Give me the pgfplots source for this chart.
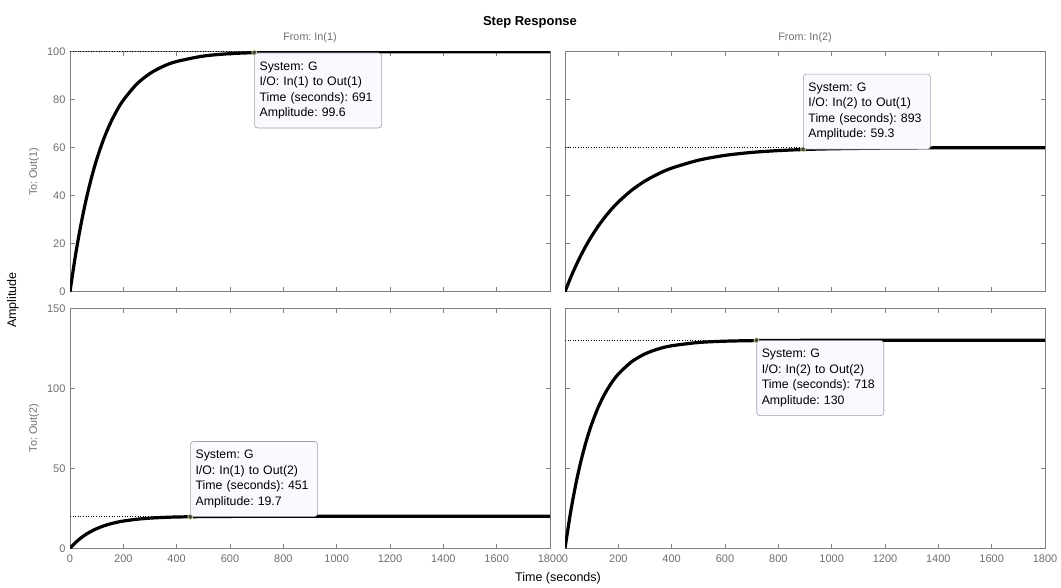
\documentclass[border=0pt]{standalone}
\usepackage{pgfplots}
\pgfplotsset{compat=1.18}
\usepackage{fontspec}
\setmainfont{Liberation Sans}
\frenchspacing
\definecolor{axgray}{RGB}{128,128,128}
\definecolor{lblgray}{RGB}{110,110,110}
\definecolor{tipfill}{RGB}{249,249,255}
\definecolor{tipedge}{RGB}{160,160,170}
\definecolor{mkedge}{RGB}{225,225,160}
\pgfplotsset{
  stepax/.style={
    scale only axis, width=480pt, height=240pt, anchor=south west,
    xmin=0, xmax=1800, xtick={0,200,...,1800},
    tick align=inside, xtick pos=both, ytick pos=both,
    xticklabel pos=lower, yticklabel pos=left,
    major tick length=4.5pt,
    axis line style={axgray, line width=0.6pt},
    tick style={axgray, line width=0.6pt},
    every tick label/.append style={text=lblgray, font=\fontsize{11}{13}\selectfont},
    xticklabel style={yshift=-3pt},
    yticklabel style={xshift=-1pt},
    /pgf/number format/assume math mode=true,
    /pgf/number format/1000 sep={},
    scaled ticks=false,
    clip mode=individual,
  },
  resp/.style={black, line width=3.2pt, smooth},
  ss/.style={black, dotted, line width=0.6pt},
  tipmark/.style={only marks, mark=*, mark size=2.5pt, mark options={fill=black!75, draw=mkedge, line width=0.7pt}},
}
\tikzset{
  datatip/.style={draw=tipedge, fill=tipfill, rounded corners=3pt, line width=0.6pt,
    text width=117pt, inner xsep=5pt, inner ysep=0pt, minimum height=75pt, align=left,
    font=\fontsize{12.3}{15.5}\selectfont},
}
\begin{document}
\begin{tikzpicture}[x=1pt,y=1pt]
\path[use as bounding box] (0,0) rectangle (1061,588);

% Top-left: In(1) -> Out(1)
\begin{axis}[stepax, at={(70pt,296.3pt)}, ymin=0, ymax=100, ytick={0,20,...,100}, xticklabels={}]
\addplot[ss] coordinates {(0,100) (1800,100)};
\addplot[resp] coordinates {(0,0) (20,14.79) (40,27.39) (60,38.12) (80,47.27) (100,55.07) (125,63.21) (150,69.88) (175,75.34) (200,79.81) (250,86.47) (300,90.93) (350,93.92) (400,95.92) (500,98.17) (600,99.18) (700,99.63) (800,99.83) (1000,99.97) (1200,99.99) (1800,100)};
\addplot[tipmark] coordinates {(691,99.6)};
\node[datatip, anchor=north west] at (axis cs:691,99.6) {System: G\\I/O: In(1) to Out(1)\\Time (seconds): 691\\Amplitude: 99.6};
\end{axis}

% Top-right: In(2) -> Out(1)
\begin{axis}[stepax, at={(565pt,296.3pt)}, ymin=0, ymax=100, ytick={0,20,...,100}, xticklabels={}, yticklabels={}]
\addplot[ss] coordinates {(0,60) (1800,60)};
\addplot[resp] coordinates {(0,0) (20,5.58) (40,10.63) (60,15.23) (80,19.39) (100,23.16) (125,27.39) (150,31.13) (175,34.45) (200,37.38) (250,42.28) (300,46.11) (350,49.12) (400,51.48) (500,54.77) (600,56.79) (700,58.03) (800,58.79) (900,59.26) (1000,59.54) (1200,59.83) (1400,59.94) (1800,60)};
\addplot[tipmark] coordinates {(893,59.3)};
\node[datatip, anchor=south west] at (axis cs:893,59.3) {System: G\\I/O: In(2) to Out(1)\\Time (seconds): 893\\Amplitude: 59.3};
\end{axis}

% Bottom-left: In(1) -> Out(2)
\begin{axis}[stepax, at={(70pt,39.7pt)}, ymin=0, ymax=150, ytick={0,50,100,150}]
\addplot[ss] coordinates {(0,20) (1800,20)};
\addplot[resp] coordinates {(0,0) (20,3.47) (40,6.34) (60,8.71) (80,10.66) (100,12.28) (125,13.92) (150,15.21) (175,16.22) (200,17.02) (250,18.15) (300,18.85) (350,19.29) (400,19.56) (500,19.83) (600,19.93) (700,19.97) (800,19.99) (1000,20) (1800,20)};
\addplot[tipmark] coordinates {(451,19.7)};
\node[datatip, anchor=south west] at (axis cs:451,19.7) {System: G\\I/O: In(1) to Out(2)\\Time (seconds): 451\\Amplitude: 19.7};
\end{axis}

% Bottom-right: In(2) -> Out(2)
\begin{axis}[stepax, at={(565pt,39.7pt)}, ymin=0, ymax=150, ytick={0,50,100,150}, yticklabels={}]
\addplot[ss] coordinates {(0,130) (1800,130)};
\addplot[resp] coordinates {(0,0) (20,21.61) (40,39.64) (60,54.65) (80,67.18) (100,77.62) (125,88.27) (150,96.76) (175,103.52) (200,108.90) (250,116.61) (300,121.50) (350,124.61) (400,126.58) (500,128.62) (600,129.44) (700,129.78) (800,129.91) (1000,129.99) (1800,130)};
\addplot[tipmark] coordinates {(718,130)};
\node[datatip, anchor=north west] at (axis cs:718,130) {System: G\\I/O: In(2) to Out(2)\\Time (seconds): 718\\Amplitude: 130};
\end{axis}

% Titles and labels
\node[font=\bfseries\fontsize{13}{15}\selectfont] at (530,566) {Step Response};
\node[text=lblgray, font=\fontsize{10.8}{12}\selectfont] at (310,550) {From: In(1)};
\node[text=lblgray, font=\fontsize{10.8}{12}\selectfont] at (805,550) {From: In(2)};
\node[text=lblgray, font=\fontsize{10.8}{12}\selectfont, rotate=90] at (34,416) {To: Out(1)};
\node[text=lblgray, font=\fontsize{10.8}{12}\selectfont, rotate=90] at (34,160) {To: Out(2)};
\node[font=\fontsize{12.5}{14}\selectfont, rotate=90] at (13,288) {Amplitude};
\node[font=\fontsize{12.5}{14}\selectfont] at (558,10) {Time (seconds)};
\end{tikzpicture}
\end{document}
